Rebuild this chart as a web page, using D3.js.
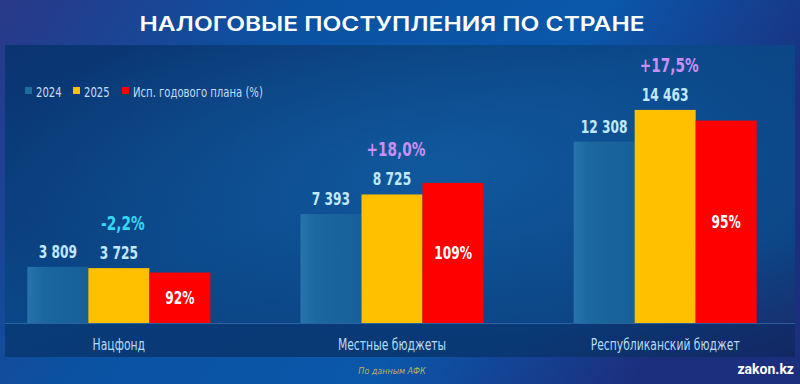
<!DOCTYPE html>
<html>
<head>
<meta charset="utf-8">
<script src="https://cdn.jsdelivr.net/npm/d3@7"></script>
<style>
  html, body { margin: 0; padding: 0; background: #0b4a98; }
  svg { display: block; }
  .narrow { font-family: "Liberation Sans Narrow", "DejaVu Sans Condensed", "Roboto", sans-serif; }
</style>
</head>
<body>
<div id="chart"></div>
<script>
// data
var categories = ["Нацфонд", "Местные бюджеты", "Республиканский бюджет"];
var seriesKeys = ["2024", "2025", "Исп. годового плана (%)"];
var values2024 = [3809, 7393, 12308];
var values2025 = [3725, 8725, 14463];
var planPct = [92, 109, 95];          // исполнение годового плана, %
var changePct = [-2.2, 18.0, 17.5];   // 2025 к 2024
var yTicks = [0, 5000, 10000, 15000];

var colors = { "2024": "url(#g2024)", "2025": "#ffc000", "plan": "#ff0000" };

var W = 800, H = 384;
var base = 323;
var squeeze = 0.8; // the original uses a condensed face

var svg = d3.select("#chart").append("svg")
    .attr("width", W)
    .attr("height", H);

var defs = svg.append("defs");

// background gradients
var bg = defs.append("linearGradient").attr("id", "bg").attr("x1", 0).attr("x2", 1).attr("y1", 0).attr("y2", 0.3);
bg.append("stop").attr("offset", 0).attr("stop-color", "#2a3888");
bg.append("stop").attr("offset", 0.35).attr("stop-color", "#0b52a2");
bg.append("stop").attr("offset", 0.7).attr("stop-color", "#0b57aa");
bg.append("stop").attr("offset", 1).attr("stop-color", "#1c2f7e");

var panel = defs.append("linearGradient").attr("id", "panel").attr("x1", 0).attr("x2", 1).attr("y1", 0).attr("y2", 1);
panel.append("stop").attr("offset", 0).attr("stop-color", "#0a3470");
panel.append("stop").attr("offset", 0.45).attr("stop-color", "#0b4788");
panel.append("stop").attr("offset", 0.8).attr("stop-color", "#0c4484");
panel.append("stop").attr("offset", 1).attr("stop-color", "#1b2a6a");

var glow = defs.append("radialGradient").attr("id", "glow").attr("cx", 0.55).attr("cy", 0.4).attr("r", 0.55);
glow.append("stop").attr("offset", 0).attr("stop-color", "#1467ad").attr("stop-opacity", 0.55);
glow.append("stop").attr("offset", 1).attr("stop-color", "#1467ad").attr("stop-opacity", 0);

var g24 = defs.append("linearGradient").attr("id", "g2024").attr("x1", 0).attr("x2", 1);
g24.append("stop").attr("offset", 0).attr("stop-color", "#2774aa");
g24.append("stop").attr("offset", 0.25).attr("stop-color", "#1b679e");
g24.append("stop").attr("offset", 1).attr("stop-color", "#175f98");

svg.append("rect").attr("width", W).attr("height", H).attr("fill", "url(#bg)");
svg.append("rect").attr("x", 5).attr("y", 45).attr("width", 790).attr("height", 312).attr("fill", "url(#panel)");
svg.append("rect").attr("x", 5).attr("y", 45).attr("width", 790).attr("height", 312).attr("fill", "url(#glow)");
// darker strip under the bars for the category names
svg.append("rect").attr("x", 5).attr("y", base).attr("width", 790).attr("height", 34)
    .attr("fill", "#062659").attr("opacity", 0.35);

// title
svg.append("text")
    .attr("x", 392).attr("y", 31)
    .attr("text-anchor", "middle")
    .attr("textLength", 505).attr("lengthAdjust", "spacingAndGlyphs")
    .style("font-family", "Inter, 'Open Sans', sans-serif")
    .style("font-weight", 600)
    .style("font-size", "20px")
    .style("fill", "#ffffff")
    .text("НАЛОГОВЫЕ ПОСТУПЛЕНИЯ ПО СТРАНЕ");

// scales
var x0 = d3.scaleBand()
    .domain(categories)
    .range([0, 784])
    .paddingInner(0.33)
    .paddingOuter(0.1);

var x1 = d3.scaleBand()
    .domain(seriesKeys)
    .range([0, x0.bandwidth()]);

var y = d3.scaleLinear()
    .domain([0, d3.max(yTicks)])
    .range([base, 102]);

// rows for the bars; the red bar shows 2025 scaled by the plan share
var rows = categories.map(function(c, i) {
  return { cat: c, v2024: values2024[i], v2025: values2025[i], pct: planPct[i], change: changePct[i] };
});

// place a text at (x, y) squeezed horizontally
function at(xf, yf) {
  return function(d, i) {
    var xx = typeof xf === "function" ? xf(d, i) : xf;
    var yy = typeof yf === "function" ? yf(d, i) : yf;
    return "translate(" + xx + "," + yy + ") scale(" + squeeze + ",1)";
  };
}

// baseline
svg.append("line")
    .attr("x1", 5).attr("x2", 795).attr("y1", base + 0.5).attr("y2", base + 0.5)
    .attr("stroke", "#3f7fc0").attr("stroke-opacity", 0.6);

var gGroups = svg.selectAll(".grp")
    .data(rows)
  .enter().append("g")
    .attr("class", "grp")
    .attr("transform", function(d) { return "translate(" + x0(d.cat) + ",0)"; });

gGroups.append("rect")
    .attr("x", x1("2024"))
    .attr("width", x1.bandwidth())
    .attr("y", function(d) { return y(d.v2024); })
    .attr("height", function(d) { return base - y(d.v2024); })
    .attr("fill", colors["2024"]);

gGroups.append("rect")
    .attr("x", x1("2025"))
    .attr("width", x1.bandwidth())
    .attr("y", function(d) { return y(d.v2025); })
    .attr("height", function(d) { return base - y(d.v2025); })
    .attr("fill", colors["2025"]);

gGroups.append("rect")
    .attr("x", x1(seriesKeys[2]))
    .attr("width", x1.bandwidth())
    .attr("y", function(d) { return y(d.v2025 * d.pct / 100); })
    .attr("height", function(d) { return base - y(d.v2025 * d.pct / 100); })
    .attr("fill", colors.plan);

var fmt = function(v) { return d3.format(",")(v).replace(/,/g, " "); };

// value labels
gGroups.append("text")
    .attr("class", "narrow")
    .attr("transform", at(x1("2024") + x1.bandwidth() / 2, function(d) { return y(d.v2024) - 9; }))
    .attr("text-anchor", "middle")
    .style("font-size", "17px").style("font-weight", "bold")
    .style("fill", "#c2e8fb")
    .text(function(d) { return fmt(d.v2024); });

gGroups.append("text")
    .attr("class", "narrow")
    .attr("transform", at(x1("2025") + x1.bandwidth() / 2, function(d) { return y(d.v2025) - 9; }))
    .attr("text-anchor", "middle")
    .style("font-size", "17px").style("font-weight", "bold")
    .style("fill", "#c2e8fb")
    .text(function(d) { return fmt(d.v2025); });

gGroups.append("text")
    .attr("class", "narrow")
    .attr("transform", at(x1(seriesKeys[2]) + x1.bandwidth() / 2,
        function(d) { return (y(d.v2025 * d.pct / 100) + base) / 2; }))
    .attr("dy", "0.35em")
    .attr("text-anchor", "middle")
    .style("font-size", "17px").style("font-weight", "bold")
    .style("fill", "#ffffff")
    .text(function(d) { return d.pct + "%"; });

// change labels
gGroups.append("text")
    .attr("class", "narrow")
    .attr("transform", at(x0.bandwidth() / 2 + 4, function(d) { return y(d.v2025) - 38; }))
    .attr("text-anchor", "middle")
    .style("font-size", "19px").style("font-weight", "bold")
    .style("fill", function(d) { return d.change < 0 ? "#35d8f2" : "#c98ff2"; })
    .text(function(d) {
      var s = d3.format(".1f")(Math.abs(d.change)).replace(".", ",");
      return (d.change < 0 ? "-" : "+") + s + "%";
    });

// category names
svg.selectAll(".cat")
    .data(categories)
  .enter().append("text")
    .attr("class", "narrow cat")
    .attr("transform", at(function(d) { return x0(d) + x0.bandwidth() / 2; }, 350))
    .attr("text-anchor", "middle")
    .style("font-size", "15px")
    .style("fill", "#b6dcf8")
    .text(function(d) { return d; });

// legend
var legendColors = ["#1a6f9f", "#ffc000", "#ff0000"];
var legendX = [25, 73, 122];
var legend = svg.selectAll(".leg")
    .data(seriesKeys)
  .enter().append("g")
    .attr("class", "leg")
    .attr("transform", function(d, i) { return "translate(" + legendX[i] + ",87)"; });

legend.append("rect")
    .attr("width", 7).attr("height", 7)
    .attr("fill", function(d, i) { return legendColors[i]; });

legend.append("text")
    .attr("class", "narrow")
    .attr("transform", at(11, 10))
    .style("font-size", "14px")
    .style("fill", "#c4def4")
    .text(function(d) { return d; });

// footer
svg.append("text")
    .attr("x", 392).attr("y", 374)
    .attr("text-anchor", "middle")
    .style("font-family", "'DejaVu Sans', sans-serif")
    .style("font-style", "italic")
    .style("font-size", "8px")
    .style("fill", "#bcb25c")
    .text("По данным АФК");

svg.append("text")
    .attr("x", 794).attr("y", 374)
    .attr("text-anchor", "end")
    .style("font-family", "Roboto, sans-serif")
    .style("font-weight", "bold")
    .style("font-size", "14px")
    .style("fill", "#ffffff")
    .text("zakon.kz");
</script>
</body>
</html>
